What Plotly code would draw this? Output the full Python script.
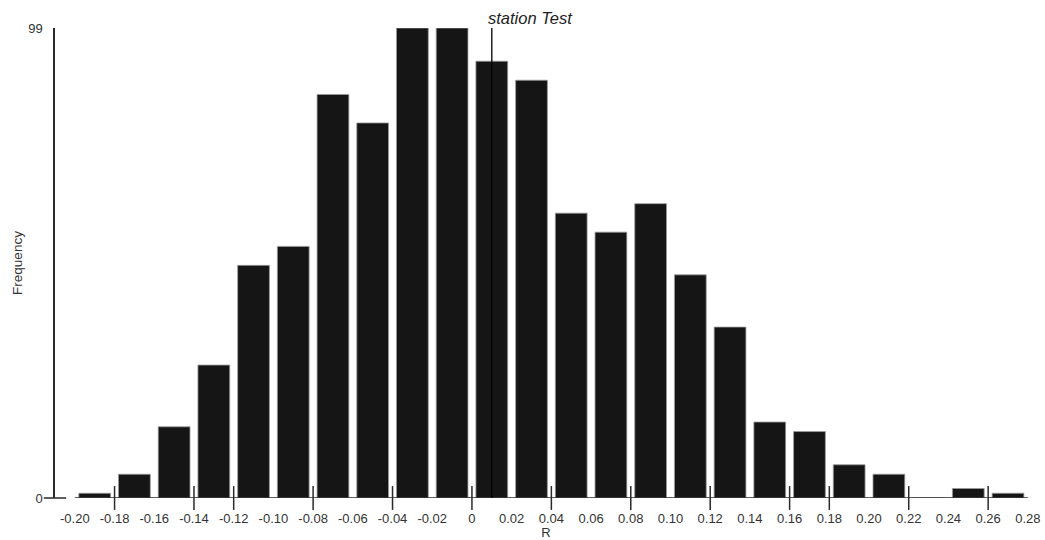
import plotly.graph_objects as go

# Histogram data (bin width 0.02, from -0.20 to 0.28)
bin_left = [-0.20, -0.18, -0.16, -0.14, -0.12, -0.10, -0.08, -0.06, -0.04, -0.02,
            0.00, 0.02, 0.04, 0.06, 0.08, 0.10, 0.12, 0.14, 0.16, 0.18,
            0.20, 0.22, 0.24, 0.26]
frequency = [1, 5, 15, 28, 49, 53, 85, 79, 99, 99,
             92, 88, 60, 56, 62, 47, 36, 16, 14, 7,
             5, 0, 2, 1]
bin_width = 0.02

tick_label_vals = [-0.20, -0.18, -0.16, -0.14, -0.12, -0.10, -0.08, -0.06, -0.04, -0.02,
                   0.00, 0.02, 0.04, 0.06, 0.08, 0.10, 0.12, 0.14, 0.16, 0.18,
                   0.20, 0.22, 0.24, 0.26, 0.28]
tick_label_text = ["-0.20", "-0.18", "-0.16", "-0.14", "-0.12", "-0.10", "-0.08", "-0.06",
                   "-0.04", "-0.02", "0", "0.02", "0.04", "0.06", "0.08", "0.10", "0.12",
                   "0.14", "0.16", "0.18", "0.20", "0.22", "0.24", "0.26", "0.28"]
tick_mark_vals = [-0.18, -0.14, -0.12, -0.08, -0.04, 0.00, 0.04, 0.08, 0.12, 0.16,
                  0.18, 0.22, 0.26]
y_tick_vals = [0, 99]
y_tick_marks = [0]

station_value = 0.01
station_label = "station Test"

x_min, x_max = -0.21, 0.2846
y_max = 99

centers = [b + bin_width / 2 for b in bin_left]

fig = go.Figure()

fig.add_trace(go.Bar(
    x=centers, y=frequency,
    marker=dict(color="#151515", line=dict(color="#9a9a9a", width=0.8)),
    hoverinfo="skip", showlegend=False,
))

# x-axis baseline spanning the bins
fig.add_trace(go.Scatter(
    x=[bin_left[0], bin_left[-1] + bin_width], y=[0, 0],
    mode="lines", line=dict(color="#2a2a2a", width=1.5),
    hoverinfo="skip", showlegend=False, cliponaxis=False,
))

# x tick marks crossing the axis
fig.add_trace(go.Scatter(
    x=tick_mark_vals, y=[0] * len(tick_mark_vals),
    mode="markers",
    marker=dict(symbol="line-ns", size=17, line=dict(color="#2a2a2a", width=1.5)),
    hoverinfo="skip", showlegend=False, cliponaxis=False,
))

# y tick mark crossing the axis
fig.add_trace(go.Scatter(
    x=[x_min] * len(y_tick_marks), y=y_tick_marks,
    mode="markers",
    marker=dict(symbol="line-ew", size=16, line=dict(color="#2a2a2a", width=1.5)),
    hoverinfo="skip", showlegend=False, cliponaxis=False,
))

# station line
fig.add_trace(go.Scatter(
    x=[station_value, station_value], y=[0, y_max],
    mode="lines", line=dict(color="#000000", width=1.3),
    hoverinfo="skip", showlegend=False, cliponaxis=False,
))

fig.add_annotation(
    x=station_value, y=1, xref="x", yref="paper",
    text="<i>" + station_label + "</i>", showarrow=False,
    xanchor="left", yanchor="bottom", xshift=-6, yshift=-1,
    font=dict(family="Liberation Sans", size=16.5, color="#222222"),
)

fig.update_layout(
    width=1045, height=540,
    margin=dict(l=55, r=5, t=28, b=38),
    paper_bgcolor="white", plot_bgcolor="white",
    bargap=0.2,
    font=dict(family="Liberation Sans", color="#333333"),
    xaxis=dict(
        range=[x_min, x_max],
        tickvals=tick_label_vals, ticktext=tick_label_text,
        ticks="outside", ticklen=8, tickcolor="rgba(0,0,0,0)",
        showgrid=False, zeroline=False, showline=False,
        tickfont=dict(size=13, color="#333333"),
        title=dict(text="R", font=dict(size=13, color="#333333"), standoff=0),
    ),
    yaxis=dict(
        range=[0, y_max],
        tickvals=y_tick_vals, ticktext=[str(v) for v in y_tick_vals],
        ticks="outside", ticklen=8, tickcolor="rgba(0,0,0,0)",
        showgrid=False, zeroline=False,
        showline=True, linecolor="#2a2a2a", linewidth=1.5,
        tickfont=dict(size=13, color="#333333"),
        title=dict(text="Frequency", font=dict(size=13.5, color="#333333"), standoff=2),
    ),
)

fig.write_html("out.html")
